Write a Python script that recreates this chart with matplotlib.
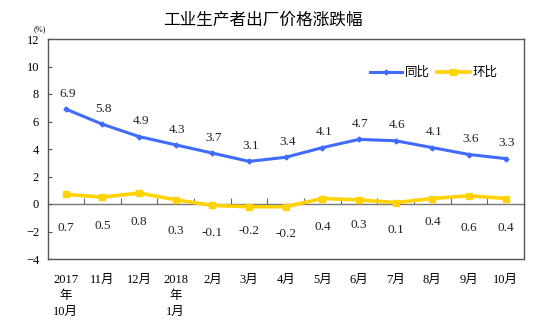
import matplotlib
matplotlib.use("Agg")
import matplotlib.pyplot as plt
import numpy as np

plt.rcParams['font.family'] = ['Liberation Serif', 'Noto Sans CJK SC']

months = ['2017\n年\n10月', '11月', '12月', '2018\n年\n1月', '2月', '3月', '4月',
          '5月', '6月', '7月', '8月', '9月', '10月']
yoy = [6.9, 5.8, 4.9, 4.3, 3.7, 3.1, 3.4, 4.1, 4.7, 4.6, 4.1, 3.6, 3.3]
mom = [0.7, 0.5, 0.8, 0.3, -0.1, -0.2, -0.2, 0.4, 0.3, 0.1, 0.4, 0.6, 0.4]
# where the 环比 value labels sit (as in the original layout)
mom_label_y = [-1.75, -1.6, -1.3, -2.0, -2.1, -2.0, -2.2, -1.65, -1.5, -1.9, -1.3, -1.75, -1.75]

blue = '#3F6CFF'
yellow = '#FFD200'

fig = plt.figure(figsize=(5.45, 3.22), dpi=100)
ax = fig.add_axes([47.5 / 545, 1 - 259 / 322, 476.5 / 545, 220 / 322])

x = np.arange(len(months))
ax.plot(x, yoy, color=blue, lw=2.2, marker='D', ms=2.5, label='同比', zorder=3)
ax.plot(x, mom, color=yellow, lw=2.6, marker='s', ms=4, label='环比', zorder=3)

for xi, v in zip(x, yoy):
    ax.annotate(f'{v:.1f}', (xi, v), xytext=(1, 11), textcoords='offset points',
                ha='center', va='center', fontsize=9.5, color='#222222')
for xi, v, ly in zip(x, mom, mom_label_y):
    ax.text(xi, ly, f'{v:.1f}', ha='center', va='center', fontsize=9.5, color='#222222')

ax.set_xlim(-0.5, len(months) - 0.5)
ax.set_ylim(-4, 12)
ax.set_yticks(np.arange(-4, 13, 2))
ax.set_xticks(x)
ax.set_xticklabels(months, fontsize=9, linespacing=1.45, va='top')
ax.tick_params(axis='x', length=0, pad=11)
ax.tick_params(axis='y', direction='in', length=3, labelsize=9, pad=6, color='#555555')
for s in ax.spines.values():
    s.set_color('#555555')
    s.set_linewidth(1.0)

# zero line with small ticks between months
zero = ax.secondary_xaxis(0.25)
zero.set_xticks(np.arange(0.5, len(months) - 1, 1))
zero.tick_params(direction='in', length=4, labelbottom=False, color='#666666')
zero.spines['bottom'].set_color('#777777')
zero.spines['bottom'].set_linewidth(1.0)

ax.legend(loc='center', bbox_to_anchor=(0.81, 0.845), ncol=2, frameon=False,
          fontsize=9, handlelength=2.6, handletextpad=0.2, columnspacing=0.6)

fig.text(263 / 545, 1 - 21 / 322, '工业生产者出厂价格涨跌幅', ha='center', va='center',
         fontsize=12)
fig.text(40 / 545, 1 - 29 / 322, '(%)', ha='center', va='center', fontsize=6)

fig.savefig('out.png', dpi=100)
